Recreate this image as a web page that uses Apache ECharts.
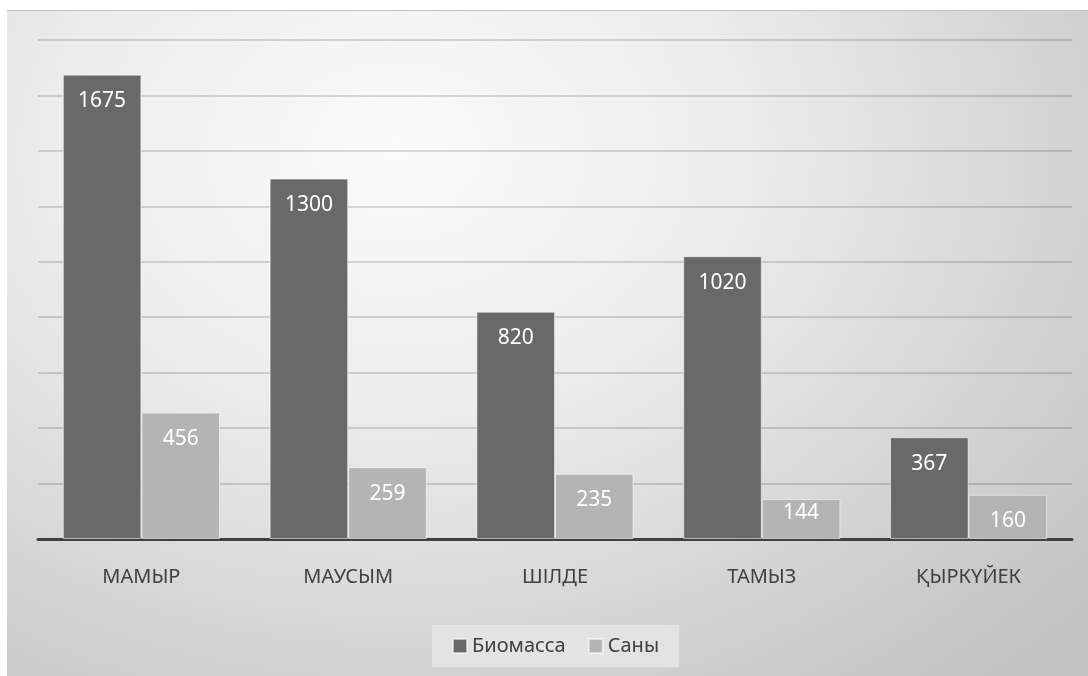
<!DOCTYPE html>
<html>
<head>
<meta charset="utf-8">
<script src="https://cdn.jsdelivr.net/npm/echarts@6/dist/echarts.min.js"></script>
<style>
  html, body { margin: 0; padding: 0; background: #fff; }
  #chart {
    position: absolute;
    left: 7px;
    top: 10px;
    width: 1081px;
    height: 666px;
    border-top: 1px solid #c2c2c2;
    box-sizing: border-box;
    background: radial-gradient(ellipse 85% 105% at 36% 21%, #fbfbfb 0%, #ececec 38%, #d4d4d4 72%, #c2c2c2 100%);
  }
</style>
</head>
<body>
<div id="chart"></div>
<script>
  var months = ['МАМЫР', 'МАУСЫМ', 'ШІЛДЕ', 'ТАМЫЗ', 'ҚЫРКҮЙЕК']
  var biomass = [1675, 1300, 820, 1020, 367]
  var counts = [456, 259, 235, 144, 160]

  var myChart = echarts.init(document.getElementById('chart'))

  var labelStyle = {
    show: true,
    position: 'insideTop',
    distance: 16,
    color: '#ffffff',
    fontSize: 21,
    fontFamily: 'Noto Sans'
  }

  // the shortest bar has its label pushed up near the top edge
  var countData = counts.map(function (v) {
    if (v < 150) return { value: v, label: { distance: 3 } }
    return v
  })

  var option = {
    animation: false,
    backgroundColor: 'transparent',
    textStyle: { fontFamily: 'Noto Sans' },
    grid: {
      left: 31,
      right: 16,
      top: 29,
      bottom: 137
    },
    legend: {
      data: ['Биомасса', 'Саны'],
      bottom: 9,
      left: 425,
      icon: 'rect',
      itemWidth: 14,
      itemHeight: 14,
      itemGap: 22,
      padding: [11, 20],
      backgroundColor: 'rgba(228,228,228,0.9)',
      textStyle: {
        fontSize: 20,
        color: '#404040',
        fontFamily: 'Noto Sans'
      }
    },
    xAxis: {
      type: 'category',
      data: months,
      axisLine: {
        lineStyle: { color: '#404040', width: 3 }
      },
      axisTick: { show: false },
      axisLabel: {
        fontSize: 20,
        color: '#404040',
        margin: 28,
        fontFamily: 'Noto Sans'
      }
    },
    yAxis: {
      type: 'value',
      min: 0,
      max: 1800,
      interval: 200,
      axisLabel: { show: false },
      axisLine: { show: false },
      axisTick: { show: false },
      splitLine: {
        lineStyle: { color: 'rgba(0,0,0,0.14)', width: 2 }
      }
    },
    series: [
      {
        name: 'Биомасса',
        type: 'bar',
        data: biomass,
        barGap: 0,
        barCategoryGap: '24%',
        itemStyle: {
          color: '#696969',
          borderColor: 'rgba(255,255,255,0.55)',
          borderWidth: 1
        },
        label: labelStyle
      },
      {
        name: 'Саны',
        type: 'bar',
        data: countData,
        barGap: 0,
        barCategoryGap: '24%',
        itemStyle: {
          color: '#b4b4b4',
          borderColor: 'rgba(255,255,255,0.55)',
          borderWidth: 1
        },
        label: labelStyle
      }
    ]
  }
  myChart.setOption(option)
</script>
</body>
</html>
